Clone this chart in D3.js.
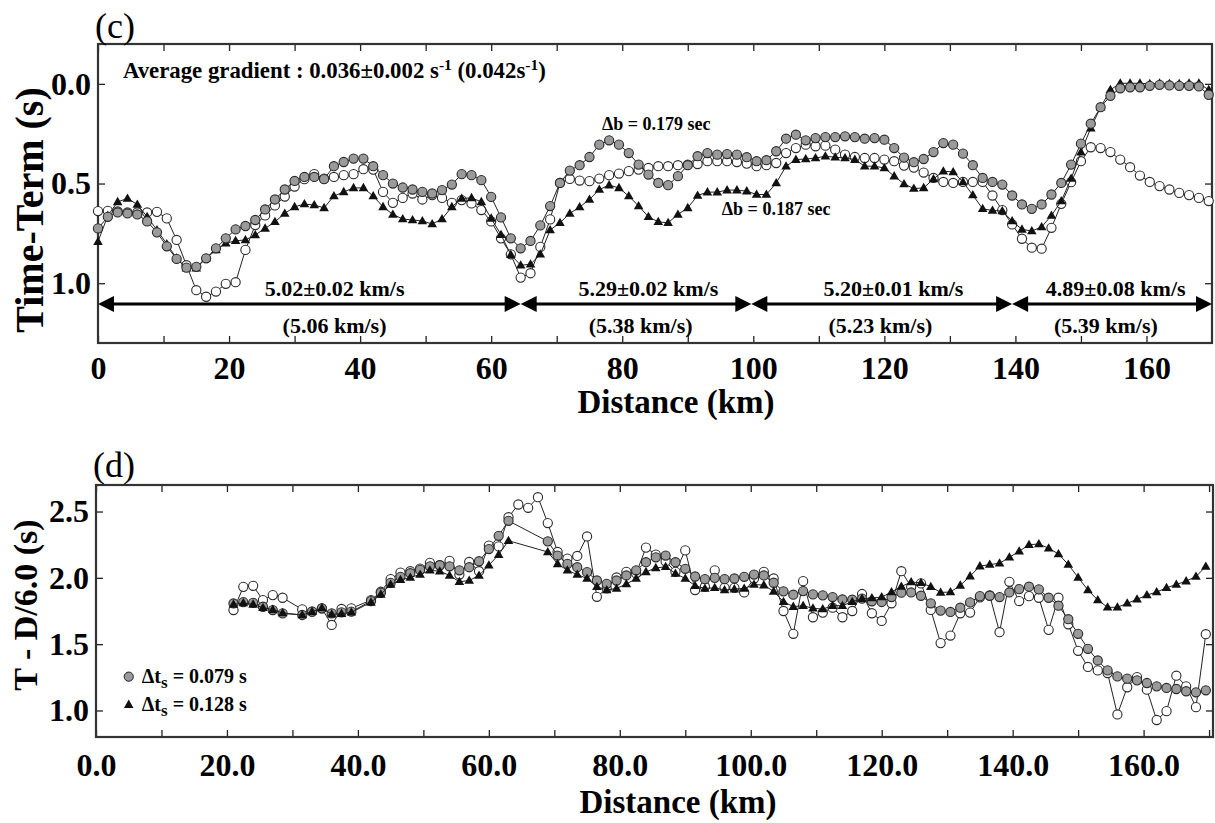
<!DOCTYPE html>
<html>
<head>
<meta charset="utf-8">
<script src="https://cdn.jsdelivr.net/npm/d3@7"></script>
<style>
  body { margin: 0; background: #fff; }
</style>
</head>
<body>
<div id="chart"></div>
<script>
// ---- panel (c): time-terms, stations every 1.5 km ----
var stationKmC = d3.range(0, 170, 1.5);

var timeTermGray = [
  0.725,0.667,0.645,0.65,0.655,0.69,0.745,0.815,0.878,0.922,
  0.918,0.875,0.825,0.775,0.73,0.713,0.683,0.63,0.58,0.53,
  0.487,0.467,0.467,0.478,0.413,0.392,0.375,0.375,0.413,0.458,
  0.5,0.52,0.53,0.542,0.55,0.533,0.505,0.453,0.458,0.483,
  0.567,0.67,0.775,0.825,0.788,0.71,0.613,0.497,0.435,0.408,
  0.367,0.305,0.283,0.305,0.347,0.405,0.455,0.497,0.508,0.463,
  0.408,0.363,0.347,0.355,0.352,0.355,0.368,0.388,0.383,0.338,
  0.275,0.255,0.283,0.272,0.267,0.267,0.263,0.267,0.275,0.272,
  0.28,0.322,0.37,0.393,0.377,0.342,0.297,0.305,0.35,0.408,
  0.472,0.492,0.505,0.56,0.605,0.627,0.605,0.555,0.497,0.405,
  0.3,0.2,0.117,0.06,0.022,0.017,0.017,0.01,0.005,0.008,
  0.01,0.01,0.013,0.055
];

var timeTermOpen = [
  0.638,0.637,0.64,0.645,0.645,0.645,0.642,0.675,0.783,0.91,
  1.035,1.068,1.042,1.003,0.995,0.833,0.708,0.66,0.61,0.565,
  0.515,0.478,0.453,0.475,0.467,0.458,0.453,0.428,0.43,0.542,
  0.597,0.572,0.55,0.58,0.558,0.572,0.597,0.583,0.6,0.633,
  0.69,0.775,0.855,0.972,0.95,0.818,0.68,0.497,0.477,0.485,
  0.488,0.475,0.458,0.45,0.438,0.43,0.422,0.413,0.413,0.408,
  0.405,0.402,0.388,0.388,0.388,0.392,0.4,0.413,0.408,0.397,
  0.347,0.322,0.305,0.313,0.31,0.33,0.355,0.367,0.372,0.372,
  0.38,0.388,0.41,0.42,0.445,0.472,0.492,0.497,0.492,0.492,
  0.492,0.56,0.633,0.705,0.777,0.822,0.827,0.722,0.602,0.493,
  0.388,0.318,0.322,0.342,0.38,0.418,0.46,0.492,0.513,0.53,
  0.547,0.558,0.572,0.588
];

var timeTermTri = [
  0.792,0.66,0.592,0.575,0.605,0.667,0.733,0.803,0.875,0.925,
  0.925,0.875,0.833,0.8,0.787,0.783,0.758,0.725,0.692,0.65,
  0.617,0.603,0.608,0.622,0.563,0.542,0.522,0.522,0.563,0.617,
  0.655,0.678,0.683,0.688,0.703,0.678,0.617,0.575,0.572,0.592,
  0.675,0.757,0.857,0.91,0.905,0.855,0.733,0.697,0.65,0.618,
  0.58,0.53,0.508,0.522,0.563,0.613,0.667,0.692,0.697,0.655,
  0.622,0.56,0.543,0.543,0.533,0.533,0.538,0.555,0.555,0.497,
  0.413,0.38,0.377,0.372,0.363,0.368,0.372,0.38,0.413,0.413,
  0.422,0.463,0.502,0.525,0.522,0.477,0.438,0.442,0.492,0.558,
  0.627,0.635,0.638,0.688,0.73,0.738,0.718,0.66,0.588,0.475,
  0.343,0.222,0.117,0.03,-0.003,-0.003,-0.003,0,-0.003,0,
  0,-0.003,-0.003,0.03
];

var velBreaksKm = [0, 64.5, 99.7, 139.5, 170];
var velLabels = ['5.02\u00b10.02 km/s', '5.29\u00b10.02 km/s', '5.20\u00b10.01 km/s', '4.89\u00b10.08 km/s'];
var velApparent = ['(5.06 km/s)', '(5.38 km/s)', '(5.23 km/s)', '(5.39 km/s)'];

// ---- panel (d): reduced travel times, stations every 1.5 km from 21 km ----
var stationKmD = d3.range(21, 170, 1.5);

var reducedGray = [
  1.807,1.817,1.812,1.782,1.757,1.732,null,1.72,1.745,1.77,
  1.732,1.74,1.745,null,1.825,1.887,1.962,2.008,2.035,2.06,
  2.087,2.095,2.087,2.057,2.08,2.125,2.217,2.317,2.43,null,
  null,null,2.275,2.168,2.105,2.08,2.043,1.98,1.955,1.98,
  2.018,2.057,2.118,2.155,2.168,2.118,2.068,2.01,1.99,2.0,
  1.99,1.995,2.008,2.025,2.018,1.963,1.898,1.873,1.9,1.875,
  1.868,1.855,1.837,1.835,1.843,1.823,1.818,1.855,1.888,1.89,
  1.865,1.808,1.753,1.743,1.775,1.815,1.862,1.865,1.855,1.89,
  1.915,1.933,1.913,1.85,1.79,1.688,1.578,1.465,1.377,1.302,
  1.257,1.24,1.227,1.207,1.182,1.17,1.162,1.145,1.137,1.152
];

var reducedOpen = [
  1.757,1.932,1.94,1.832,1.87,1.85,null,1.762,1.745,1.77,
  1.645,1.765,1.77,null,1.832,1.895,1.99,2.04,2.05,2.07,
  2.113,2.095,2.128,2.025,2.12,2.05,2.243,2.237,2.457,2.553,
  2.528,2.608,2.413,2.195,2.145,2.165,2.312,1.857,1.92,2.003,
  2.045,2.033,2.228,2.175,2.125,2.045,2.207,1.908,1.933,2.057,
  1.925,1.925,1.89,1.995,2.045,1.995,1.75,1.578,1.975,1.703,
  1.738,1.775,1.703,1.75,1.878,1.733,1.675,1.808,2.05,1.933,
  1.958,1.758,1.508,1.565,1.733,1.738,1.853,1.868,1.59,1.97,
  1.825,1.862,1.85,1.608,1.85,1.65,1.45,1.328,1.302,1.282,
  0.97,1.175,1.252,1.157,0.928,0.995,1.262,1.182,1.025,1.575
];

var reducedTri = [
  1.8,1.81,1.8,1.775,1.76,1.735,null,1.72,1.745,1.772,
  1.725,1.73,1.74,null,1.815,1.875,1.95,1.985,2.003,2.025,
  2.057,2.05,2.018,1.97,1.98,2.018,2.095,2.175,2.28,null,
  null,null,2.195,2.105,2.057,2.025,1.995,1.933,1.908,1.92,
  1.953,1.995,2.045,2.075,2.083,2.033,1.995,1.94,1.92,1.925,
  1.908,1.915,1.92,1.95,1.945,1.898,1.82,1.783,1.79,1.77,
  1.765,1.79,1.79,1.82,1.843,1.848,1.855,1.893,1.935,1.968,
  1.963,1.933,1.89,1.893,1.943,2.013,2.088,2.1,2.11,2.155,
  2.2,2.25,2.255,2.223,2.18,2.1,2.003,1.908,1.833,1.778,
  1.778,1.808,1.838,1.87,1.893,1.925,1.95,1.975,2.01,2.085
];

var legendD = [
  { kind: 'gray', label: '0.079 s' },
  { kind: 'tri',  label: '0.128 s' }
];

// ---- drawing ----
var FONT = '"Liberation Serif","Times New Roman",serif';
var INK = '#222';

var svg = d3.select('#chart').append('svg')
  .attr('width', 1215).attr('height', 823)
  .style('font-family', FONT);

function styleAxis(g, size) {
  g.attr('font-family', FONT).attr('font-size', size).attr('font-weight', 'bold');
  g.selectAll('.domain').remove();
  g.selectAll('.tick line').attr('stroke', INK).attr('stroke-width', 1.3);
  g.selectAll('.tick text').attr('fill', '#000');
}

function drawAxes(x, y, o) {
  var x0 = x.range()[0], x1 = x.range()[1];
  var y0 = y.range()[0], y1 = y.range()[1];
  var top = Math.min(y0, y1), bot = Math.max(y0, y1);
  var T = 7;

  // minor + major ticks on all sides, pointing inward
  var allX = o.xMinor.concat(o.xMajor);
  svg.append('g').attr('transform', 'translate(0,' + bot + ')')
    .call(d3.axisBottom(x).tickValues(allX).tickSizeInner(-T).tickSizeOuter(0).tickFormat(''))
    .call(styleAxis, 32);
  svg.append('g').attr('transform', 'translate(0,' + top + ')')
    .call(d3.axisTop(x).tickValues(allX).tickSizeInner(-T).tickSizeOuter(0).tickFormat(''))
    .call(styleAxis, 32);
  svg.append('g').attr('transform', 'translate(' + x0 + ',0)')
    .call(d3.axisLeft(y).tickValues(o.yTicks).tickSizeInner(-T).tickSizeOuter(0).tickPadding(7).tickFormat(o.yFmt))
    .call(styleAxis, 32);
  svg.append('g').attr('transform', 'translate(' + x1 + ',0)')
    .call(d3.axisRight(y).tickValues(o.yTicks).tickSizeInner(-T).tickSizeOuter(0).tickFormat(''))
    .call(styleAxis, 32);
  // x labels
  svg.append('g').attr('transform', 'translate(0,' + bot + ')')
    .call(d3.axisBottom(x).tickValues(o.xMajor).tickSize(0).tickPadding(o.xPad).tickFormat(o.xFmt))
    .call(styleAxis, 32);

  svg.append('rect')
    .attr('x', x0).attr('y', top)
    .attr('width', x1 - x0).attr('height', bot - top)
    .attr('fill', 'none').attr('stroke', '#333').attr('stroke-width', 2.2);
}

function drawSeries(g, x, y, dist, vals, kind) {
  var pts = dist.map(function(d, i) { return { d: d, v: vals[i] }; })
    .filter(function(p) { return p.v !== null && p.v !== undefined; });
  g.append('path').datum(pts)
    .attr('d', d3.line().x(function(p) { return x(p.d); }).y(function(p) { return y(p.v); }))
    .attr('fill', 'none').attr('stroke', INK).attr('stroke-width', 1);
  if (kind === 'tri') {
    g.selectAll(null).data(pts).enter().append('path')
      .attr('d', d3.symbol(d3.symbolTriangle, 40))
      .attr('transform', function(p) { return 'translate(' + x(p.d) + ',' + (y(p.v) + 0.5) + ')'; })
      .attr('fill', '#111');
  } else {
    g.selectAll(null).data(pts).enter().append('circle')
      .attr('cx', function(p) { return x(p.d); })
      .attr('cy', function(p) { return y(p.v); })
      .attr('r', 4.6)
      .attr('fill', kind === 'gray' ? '#9a9a9a' : '#fff')
      .attr('stroke', '#2a2a2a').attr('stroke-width', 1.1);
  }
}

// ===== panel (c) =====
var xC = d3.scaleLinear().domain([0, 170]).range([98, 1212]);
var yC = d3.scaleLinear().domain([-0.2, 1.3]).range([44, 343]);

drawAxes(xC, yC, {
  xMajor: d3.range(0, 161, 20),
  xMinor: d3.range(10, 170, 20),
  yTicks: [0, 0.5, 1.0],
  yFmt: d3.format('.1f'),
  xFmt: d3.format('d'),
  xPad: 13
});

var gc = svg.append('g');
drawSeries(gc, xC, yC, stationKmC, timeTermOpen, 'open');
drawSeries(gc, xC, yC, stationKmC, timeTermTri, 'tri');
drawSeries(gc, xC, yC, stationKmC, timeTermGray, 'gray');

// velocity arrows
var arrowY = yC(1.104);
velLabels.forEach(function(lbl, i) {
  var a = xC(velBreaksKm[i]), b = xC(velBreaksKm[i + 1]);
  var L = 16, Hh = 8;
  gc.append('line').attr('x1', a + L - 2).attr('x2', b - L + 2)
    .attr('y1', arrowY).attr('y2', arrowY)
    .attr('stroke', '#000').attr('stroke-width', 3);
  gc.append('path')
    .attr('d', 'M' + a + ',' + arrowY + 'L' + (a + L) + ',' + (arrowY - Hh) + 'L' + (a + L) + ',' + (arrowY + Hh) + 'Z')
    .attr('fill', '#000');
  gc.append('path')
    .attr('d', 'M' + b + ',' + arrowY + 'L' + (b - L) + ',' + (arrowY - Hh) + 'L' + (b - L) + ',' + (arrowY + Hh) + 'Z')
    .attr('fill', '#000');
});

var velLabelKm = [36.1, 84.0, 121.4, 155.3];
var appLabelKm = [36.1, 82.8, 119.4, 153.8];
velLabels.forEach(function(lbl, i) {
  gc.append('text').attr('x', xC(velLabelKm[i])).attr('y', yC(1.064))
    .attr('text-anchor', 'middle').attr('font-size', 22).attr('font-weight', 'bold')
    .text(lbl);
  gc.append('text').attr('x', xC(appLabelKm[i])).attr('y', yC(1.25))
    .attr('text-anchor', 'middle').attr('font-size', 22).attr('font-weight', 'bold')
    .text(velApparent[i]);
});

// average gradient note
var grad = gc.append('text').attr('x', xC(3.8)).attr('y', yC(-0.03))
  .attr('font-size', 22.8).attr('font-weight', 'bold');
grad.append('tspan').text('Average gradient : 0.036\u00b10.002 s');
grad.append('tspan').attr('dy', -8).attr('font-size', 15.5).text('-1');
grad.append('tspan').attr('dy', 8).text(' (0.042s');
grad.append('tspan').attr('dy', -8).attr('font-size', 15.5).text('-1');
grad.append('tspan').attr('dy', 8).text(')');

gc.append('text').attr('x', xC(76.9)).attr('y', yC(0.23))
  .attr('font-size', 18).attr('font-weight', 'bold').text('\u0394b = 0.179 sec');
gc.append('text').attr('x', xC(95.2)).attr('y', yC(0.657))
  .attr('font-size', 18).attr('font-weight', 'bold').text('\u0394b = 0.187 sec');

svg.append('text').attr('x', 95).attr('y', 38).attr('font-size', 36).text('(c)');
svg.append('text').attr('transform', 'translate(29,210) rotate(-90)')
  .attr('text-anchor', 'middle').attr('dy', '0.35em')
  .attr('font-size', 40).attr('font-weight', 'bold').text('Time-Term (s)');
svg.append('text').attr('x', 676).attr('y', 413).attr('text-anchor', 'middle')
  .attr('font-size', 33).attr('font-weight', 'bold').text('Distance (km)');

// ===== panel (d) =====
var xD = d3.scaleLinear().domain([0, 170.6]).range([96, 1213]);
var yD = d3.scaleLinear().domain([0.8, 2.7]).range([737, 485]);

drawAxes(xD, yD, {
  xMajor: d3.range(0, 161, 20),
  xMinor: d3.range(10, 171, 20),
  yTicks: [1.0, 1.5, 2.0, 2.5],
  yFmt: d3.format('.1f'),
  xFmt: d3.format('.1f'),
  xPad: 16
});

var gd = svg.append('g');
drawSeries(gd, xD, yD, stationKmD, reducedOpen, 'open');
drawSeries(gd, xD, yD, stationKmD, reducedGray, 'gray');
drawSeries(gd, xD, yD, stationKmD, reducedTri, 'tri');

// legend
var legY = [yD(1.255), yD(1.04)];
legendD.forEach(function(it, i) {
  var cy = legY[i];
  if (it.kind === 'gray') {
    gd.append('circle').attr('cx', xD(5.0)).attr('cy', cy).attr('r', 4.6)
      .attr('fill', '#9a9a9a').attr('stroke', INK).attr('stroke-width', 1);
  } else {
    gd.append('path').attr('d', d3.symbol(d3.symbolTriangle, 40))
      .attr('transform', 'translate(' + xD(5.0) + ',' + cy + ')').attr('fill', '#111');
  }
  var t = gd.append('text').attr('x', xD(7.0)).attr('y', cy + 6)
    .attr('font-size', 20).attr('font-weight', 'bold');
  t.append('tspan').text('\u0394t');
  t.append('tspan').attr('dy', 5).attr('font-size', 17).text('s');
  t.append('tspan').attr('dy', -5).text(' = ' + it.label);
});

svg.append('text').attr('x', 93).attr('y', 477).attr('font-size', 36).text('(d)');
svg.append('text').attr('transform', 'translate(25,605) rotate(-90)')
  .attr('text-anchor', 'middle').attr('dy', '0.35em')
  .attr('font-size', 34).attr('font-weight', 'bold').text('T - D/6.0 (s)');
svg.append('text').attr('x', 678).attr('y', 813).attr('text-anchor', 'middle')
  .attr('font-size', 33).attr('font-weight', 'bold').text('Distance (km)');
</script>
</body>
</html>
